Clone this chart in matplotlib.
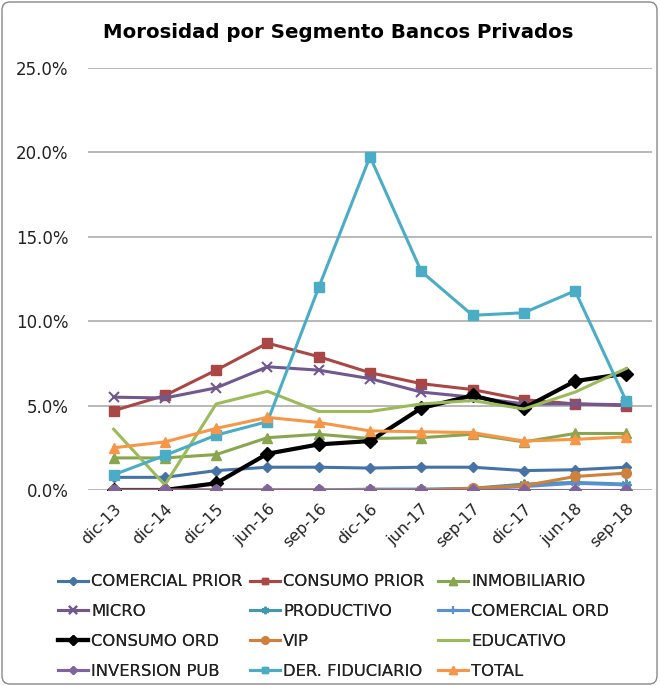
import matplotlib.pyplot as plt
from matplotlib.patches import FancyBboxPatch
from matplotlib.ticker import PercentFormatter

# periods on the x axis
periods = ['dic-13', 'dic-14', 'dic-15', 'jun-16', 'sep-16', 'dic-16',
           'jun-17', 'sep-17', 'dic-17', 'jun-18', 'sep-18']

# delinquency rates (%)
comercial_prior = [0.75, 0.75, 1.15, 1.35, 1.35, 1.3, 1.35, 1.35, 1.15, 1.2, 1.35]
consumo_prior = [4.7, 5.6, 7.1, 8.7, 7.9, 6.95, 6.3, 5.95, 5.35, 5.1, 5.0]
inmobiliario = [1.9, 1.9, 2.1, 3.1, 3.3, 3.05, 3.1, 3.3, 2.85, 3.35, 3.35]
micro = [5.5, 5.45, 6.05, 7.3, 7.1, 6.6, 5.8, 5.5, 5.1, 5.1, 5.05]
productivo = [0.0, 0.0, 0.0, 0.0, 0.0, 0.05, 0.05, 0.1, 0.35, 0.45, 0.35]
comercial_ord = [0.0, 0.0, 0.0, 0.0, 0.0, 0.0, 0.0, 0.05, 0.2, 0.4, 0.3]
consumo_ord = [0.0, 0.0, 0.4, 2.15, 2.7, 2.9, 4.85, 5.6, 4.85, 6.45, 6.9]
vip = [0.0, 0.0, 0.0, 0.0, 0.0, 0.0, 0.0, 0.1, 0.25, 0.8, 1.0]
educativo = [3.6, 0.3, 5.1, 5.85, 4.65, 4.65, 5.1, 5.3, 4.8, 5.8, 7.2]
inversion_pub = [0.0, 0.0, 0.0, 0.0, 0.0, 0.0, 0.0, 0.0, 0.0, 0.0, 0.0]
der_fiduciario = [0.9, 2.05, 3.25, 4.05, 12.0, 19.75, 12.95, 10.35, 10.5, 11.8, 5.25]
total = [2.5, 2.85, 3.65, 4.3, 4.0, 3.5, 3.45, 3.4, 2.9, 3.0, 3.15]

names = ['COMERCIAL PRIOR', 'CONSUMO PRIOR', 'INMOBILIARIO', 'MICRO', 'PRODUCTIVO',
         'COMERCIAL ORD', 'CONSUMO ORD', 'VIP', 'EDUCATIVO', 'INVERSION PUB',
         'DER. FIDUCIARIO', 'TOTAL']
series = [comercial_prior, consumo_prior, inmobiliario, micro, productivo,
          comercial_ord, consumo_ord, vip, educativo, inversion_pub,
          der_fiduciario, total]

# (color, marker, marker size, line width)
styles = [
    ('#4572A7', 'D', 5.5, 2.2),
    ('#AA4643', 's', 6.5, 2.2),
    ('#89A54E', '^', 7, 2.2),
    ('#71588F', 'x', 7, 2.2),
    ('#4198AF', (6, 2, 0), 7, 2.2),
    ('#5B8FD0', '+', 8, 2.2),
    ('#000000', 'D', 7, 3.0),
    ('#D0803A', 'o', 7, 2.2),
    ('#9BBB59', None, 0, 2.2),
    ('#8064A2', 'D', 6, 2.2),
    ('#4BACC6', 's', 6.5, 2.2),
    ('#F79646', '^', 7.5, 2.2),
]

fig = plt.figure(figsize=(6.6, 6.86), dpi=100)
ax = fig.add_axes([88 / 660, 1 - 490 / 686, 564 / 660, 422 / 686])

x = list(range(len(periods)))
handles = []
for vals, name, (c, m, ms, lw) in zip(series, names, styles):
    h, = ax.plot(x, vals, color=c, marker=m, markersize=ms, linewidth=lw,
                 markeredgewidth=1.5 if m in ('x', '+', (6, 2, 0)) else 1,
                 markeredgecolor=c, label=name)
    handles.append(h)

ax.set_xlim(-0.5, 10.5)
ax.set_ylim(0, 25)
ax.set_yticks([0, 5, 10, 15, 20, 25])
ax.yaxis.set_major_formatter(PercentFormatter(decimals=1))
ax.set_xticks(x)
ax.set_xticklabels(periods, rotation=45, ha='right', rotation_mode='anchor')
ax.tick_params(axis='both', length=0, labelsize=11.5, colors='#222222')
ax.tick_params(axis='y', labelsize=12, pad=14)
ax.tick_params(axis='x', pad=8)
ax.grid(axis='y', color='#ADADAD', linewidth=1.2)
ax.set_axisbelow(True)
for s in ax.spines.values():
    s.set_visible(False)

fig.text(338 / 660, 1 - 32 / 686, 'Morosidad por Segmento Bancos Privados',
         ha='center', va='center', fontsize=14.2, fontweight='bold')

# legend: 3 columns x 4 rows, filled row by row, one entry at a time
col_x = [58, 250, 438]
row_y = [582, 611, 641, 671]
for i, h in enumerate(handles):
    px, py = col_x[i % 3], row_y[i // 3]
    leg = fig.legend([h], [h.get_label()], loc='center left',
                     bbox_to_anchor=(px / 660, 1 - py / 686), frameon=False,
                     handlelength=1.8, handletextpad=0.22, borderpad=0,
                     borderaxespad=0, markerscale=0.75,
                     prop={'size': 11.8})
    leg.get_texts()[0].set_color('#222222')
    fig.add_artist(leg)

border = FancyBboxPatch((2 / 660, 2 / 686), 655 / 660, 682 / 686,
                        boxstyle='round,pad=0,rounding_size=0.012',
                        transform=fig.transFigure, fill=False,
                        edgecolor='#888888', linewidth=1)
fig.add_artist(border)

fig.savefig('out.png', dpi=100, facecolor='white')
